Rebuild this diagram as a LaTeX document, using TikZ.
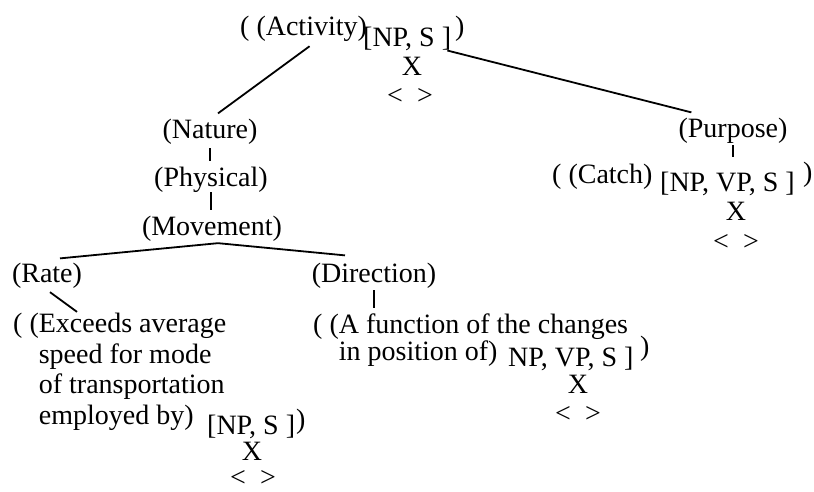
\documentclass[tikz,border=0pt]{standalone}
\usepackage{fontspec}
\setmainfont{Liberation Serif}
\begin{document}
\begin{tikzpicture}[x=1pt, y=-1pt,
    txt/.style={inner sep=0pt, font=\fontsize{28}{30.5}\selectfont},
    branch/.style={line width=1.8pt}]
  \useasboundingbox (0,0) rectangle (814,491);
  % top: activity
  \node[txt, anchor=base west] (act) at (240,35) {( (Activity)};
  \node[txt, anchor=base west] (actargs) at (363,46) {[NP, S ]};
  \node[txt, anchor=base west] (actclose) at (455,35) {)};
  \node[txt, anchor=base] (actx) at (412,75) {X};
  \node[txt, anchor=base] (actv) at (410,104) {<\hspace{0.5em}>};
  % right branch
  \node[txt, anchor=base] (purpose) at (733,137) {(Purpose)};
  \node[txt, anchor=base west] (catch) at (552,183) {( (Catch)};
  \node[txt, anchor=base west] (catchargs) at (660,191) {[NP, VP, S ]};
  \node[txt, anchor=base west] (catchclose) at (803,181) {)};
  \node[txt, anchor=base] (catchx) at (736,220) {X};
  \node[txt, anchor=base] (catchv) at (736,250) {<\hspace{0.5em}>};
  % left branch
  \node[txt, anchor=base] (nature) at (210,138) {(Nature)};
  \node[txt, anchor=base] (physical) at (211,186) {(Physical)};
  \node[txt, anchor=base] (movement) at (212,235) {(Movement)};
  \node[txt, anchor=base] (rate) at (47,282) {(Rate)};
  \node[txt, anchor=base] (direction) at (374,282) {(Direction)};
  % rate
  \node[txt, anchor=base west, align=left] (exceeds) at (13,424)
    {( (Exceeds average\\\phantom{( (}speed for mode\\\phantom{( (}of transportation\\\phantom{( (}employed by)};
  \node[txt, anchor=base west] (rateargs) at (207,434) {[NP, S ]};
  \node[txt, anchor=base west] (rateclose) at (296,428) {)};
  \node[txt, anchor=base] (ratex) at (252,460) {X};
  \node[txt, anchor=base] (ratev) at (253,486) {<\hspace{0.5em}>};
  % direction
  \node[txt, anchor=base west, align=left, font=\fontsize{28}{27}\selectfont] (function) at (313,360)
    {( (A function of the changes\\\phantom{( (}in position of)};
  \node[txt, anchor=base west] (funcargs) at (508,366) {NP, VP, S ]};
  \node[txt, anchor=base west] (funcclose) at (640,355) {)};
  \node[txt, anchor=base] (funcx) at (578,393) {X};
  \node[txt, anchor=base] (funcv) at (578,422) {<\hspace{0.5em}>};
  % branches
  \draw[branch] ([xshift=6pt,yshift=-5pt]act.south) -- ([xshift=8pt,yshift=5pt]nature.north);
  \draw[branch] ([xshift=-4pt]actargs.south east) -- ([xshift=13pt,yshift=5pt]purpose.north west);
  \draw[branch, shorten <=4pt, shorten >=5pt] (nature.south) -- (nature.south |- physical.north);
  \draw[branch, shorten >=5pt] (physical.south) -- (physical.south |- movement.north);
  \draw[branch] ([xshift=13pt,yshift=4pt]rate.north) -- ([xshift=6pt,yshift=-2pt]movement.south)
    -- ([xshift=-29pt,yshift=7pt]direction.north);
  \draw[branch] ([xshift=3pt,yshift=-4pt]rate.south) -- ([xshift=64pt,yshift=1pt]exceeds.north west);
  \draw[branch, shorten <=2pt, shorten >=5pt] (direction.south) -- (direction.south |- function.north);
  \draw[branch, shorten <=2pt, shorten >=14pt] (purpose.south) -- (purpose.south |- catchargs.north);
\end{tikzpicture}
\end{document}
